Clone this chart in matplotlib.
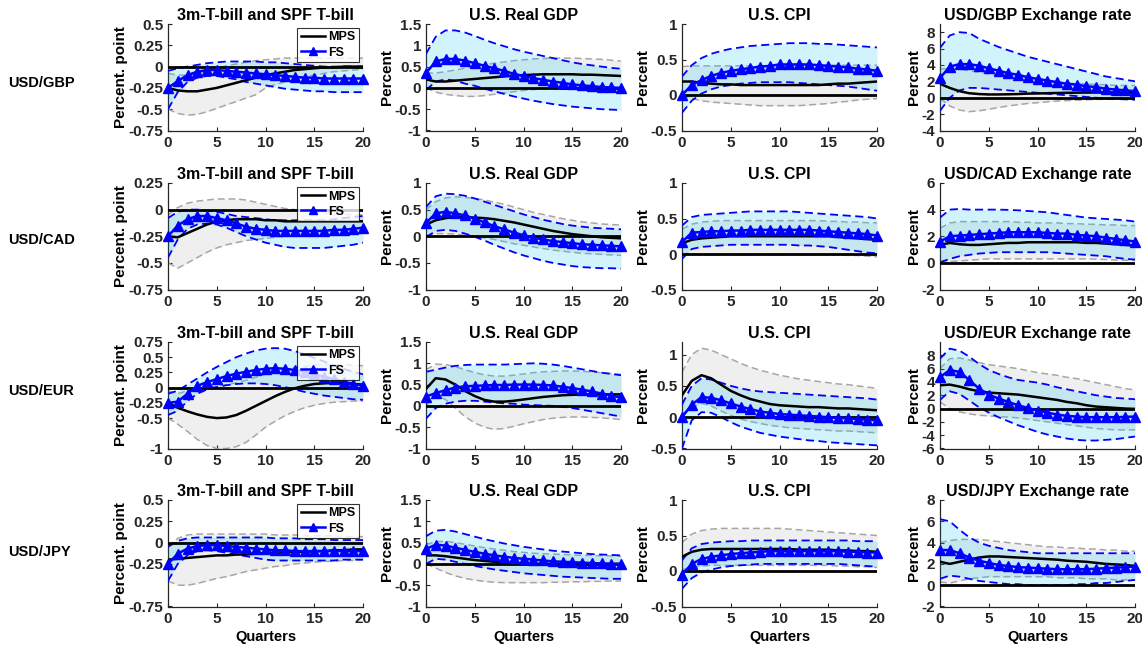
import numpy as np
import matplotlib
matplotlib.use("Agg")
import matplotlib.pyplot as plt

plt.rcParams['font.family'] = ['Liberation Sans', 'DejaVu Sans']
plt.rcParams['font.weight'] = 'bold'

quarters = np.arange(21)
currencies = ["USD/GBP", "USD/CAD", "USD/EUR", "USD/JPY"]
variables = ["3m-T-bill and SPF T-bill", "U.S. Real GDP", "U.S. CPI", "Exchange rate"]
ylabels = ["Percent. point", "Percent", "Percent", "Percent"]

# ---------------- USD/GBP ----------------
gbp_tbill_mps = [-0.25, -0.28, -0.29, -0.29, -0.27, -0.25, -0.22, -0.19, -0.16, -0.13, -0.10, -0.08, -0.06, -0.04, -0.03, -0.02, -0.01, -0.01, 0.0, 0.0, 0.0]
gbp_tbill_mps_hi = [-0.08, -0.10, -0.10, -0.08, -0.05, -0.02, 0.01, 0.03, 0.05, 0.07, 0.08, 0.09, 0.10, 0.10, 0.10, 0.10, 0.10, 0.10, 0.10, 0.10, 0.10]
gbp_tbill_mps_lo = [-0.50, -0.55, -0.57, -0.56, -0.53, -0.49, -0.45, -0.41, -0.37, -0.33, -0.25, -0.21, -0.18, -0.15, -0.12, -0.10, -0.08, -0.06, -0.05, -0.04, -0.03]
gbp_tbill_fs = [-0.25, -0.17, -0.10, -0.06, -0.04, -0.04, -0.05, -0.06, -0.07, -0.08, -0.09, -0.10, -0.11, -0.12, -0.13, -0.13, -0.14, -0.14, -0.14, -0.14, -0.14]
gbp_tbill_fs_hi = [-0.05, -0.02, 0.0, 0.02, 0.04, 0.05, 0.06, 0.06, 0.06, 0.06, 0.05, 0.05, 0.04, 0.03, 0.02, 0.01, 0.0, 0.0, 0.0, 0.0, 0.0]
gbp_tbill_fs_lo = [-0.50, -0.30, -0.18, -0.13, -0.11, -0.11, -0.13, -0.15, -0.18, -0.20, -0.22, -0.24, -0.26, -0.27, -0.28, -0.29, -0.29, -0.30, -0.30, -0.30, -0.30]

gbp_gdp_mps = [0.20, 0.15, 0.15, 0.17, 0.19, 0.21, 0.23, 0.25, 0.27, 0.29, 0.30, 0.31, 0.32, 0.32, 0.32, 0.32, 0.31, 0.31, 0.30, 0.29, 0.28]
gbp_gdp_mps_hi = [0.35, 0.35, 0.38, 0.42, 0.46, 0.50, 0.54, 0.58, 0.61, 0.64, 0.66, 0.68, 0.69, 0.70, 0.70, 0.70, 0.69, 0.68, 0.67, 0.65, 0.63]
gbp_gdp_mps_lo = [0.0, -0.10, -0.15, -0.18, -0.20, -0.20, -0.18, -0.15, -0.12, -0.09, -0.06, -0.04, -0.02, -0.01, 0.0, 0.0, 0.0, 0.0, 0.0, 0.0, 0.0]
gbp_gdp_fs = [0.35, 0.62, 0.68, 0.68, 0.64, 0.58, 0.52, 0.46, 0.40, 0.33, 0.28, 0.23, 0.19, 0.15, 0.12, 0.08, 0.06, 0.04, 0.02, 0.01, 0.0]
gbp_gdp_fs_hi = [0.80, 1.20, 1.35, 1.35, 1.30, 1.22, 1.13, 1.05, 0.98, 0.91, 0.85, 0.80, 0.75, 0.70, 0.65, 0.60, 0.56, 0.53, 0.50, 0.47, 0.45]
gbp_gdp_fs_lo = [-0.05, 0.15, 0.20, 0.17, 0.10, 0.05, -0.02, -0.08, -0.14, -0.20, -0.25, -0.30, -0.34, -0.38, -0.41, -0.44, -0.46, -0.48, -0.50, -0.51, -0.52]

gbp_cpi_mps = [0.19, 0.19, 0.17, 0.16, 0.15, 0.15, 0.14, 0.14, 0.14, 0.14, 0.14, 0.14, 0.14, 0.14, 0.14, 0.15, 0.16, 0.16, 0.17, 0.18, 0.19]
gbp_cpi_mps_hi = [0.40, 0.41, 0.41, 0.41, 0.41, 0.41, 0.41, 0.41, 0.41, 0.41, 0.41, 0.41, 0.42, 0.42, 0.42, 0.42, 0.42, 0.42, 0.42, 0.42, 0.42]
gbp_cpi_mps_lo = [0.0, -0.05, -0.08, -0.10, -0.11, -0.12, -0.13, -0.14, -0.15, -0.15, -0.15, -0.15, -0.15, -0.14, -0.13, -0.12, -0.10, -0.09, -0.07, -0.06, -0.05]
gbp_cpi_fs = [0.0, 0.14, 0.21, 0.27, 0.31, 0.34, 0.36, 0.38, 0.40, 0.41, 0.43, 0.43, 0.43, 0.43, 0.42, 0.41, 0.40, 0.39, 0.37, 0.36, 0.34]
gbp_cpi_fs_hi = [0.26, 0.42, 0.52, 0.58, 0.62, 0.65, 0.67, 0.69, 0.70, 0.71, 0.72, 0.73, 0.73, 0.73, 0.72, 0.72, 0.71, 0.70, 0.69, 0.68, 0.67]
gbp_cpi_fs_lo = [-0.25, -0.08, 0.02, 0.08, 0.12, 0.14, 0.16, 0.17, 0.18, 0.18, 0.18, 0.18, 0.17, 0.16, 0.15, 0.14, 0.13, 0.12, 0.10, 0.08, 0.06]

gbp_fx_mps = [1.70, 1.20, 0.80, 0.55, 0.45, 0.40, 0.40, 0.42, 0.45, 0.50, 0.52, 0.55, 0.58, 0.60, 0.62, 0.63, 0.64, 0.64, 0.64, 0.64, 0.63]
gbp_fx_mps_hi = [3.5, 3.6, 3.5, 3.3, 3.1, 2.9, 2.7, 2.5, 2.3, 2.2, 2.1, 2.0, 1.9, 1.8, 1.7, 1.7, 1.6, 1.6, 1.5, 1.5, 1.5]
gbp_fx_mps_lo = [-0.1, -1.0, -1.5, -1.7, -1.6, -1.4, -1.2, -1.0, -0.85, -0.7, -0.6, -0.5, -0.4, -0.35, -0.3, -0.25, -0.2, -0.2, -0.15, -0.15, -0.1]
gbp_fx_fs = [2.4, 3.8, 4.1, 4.1, 3.9, 3.6, 3.3, 3.0, 2.8, 2.5, 2.3, 2.1, 1.9, 1.7, 1.6, 1.4, 1.3, 1.1, 1.0, 0.9, 0.8]
gbp_fx_fs_hi = [6.1, 7.6, 8.0, 7.9, 7.2, 6.7, 6.2, 5.8, 5.4, 5.0, 4.7, 4.4, 4.1, 3.8, 3.5, 3.2, 2.9, 2.6, 2.4, 2.2, 2.0]
gbp_fx_fs_lo = [-1.6, 0.0, 0.9, 1.2, 1.2, 1.1, 1.0, 0.9, 0.8, 0.7, 0.6, 0.5, 0.4, 0.3, 0.2, 0.1, 0.0, -0.1, -0.15, -0.2, -0.25]

# ---------------- USD/CAD ----------------
cad_tbill_mps = [-0.25, -0.26, -0.22, -0.18, -0.14, -0.11, -0.10, -0.09, -0.09, -0.09, -0.10, -0.10, -0.11, -0.11, -0.11, -0.11, -0.11, -0.11, -0.11, -0.11, -0.11]
cad_tbill_mps_hi = [-0.05, 0.02, 0.06, 0.08, 0.09, 0.10, 0.10, 0.10, 0.09, 0.07, 0.05, 0.03, 0.01, 0.0, -0.01, -0.02, -0.03, -0.04, -0.04, -0.05, -0.05]
cad_tbill_mps_lo = [-0.50, -0.55, -0.50, -0.45, -0.40, -0.36, -0.33, -0.31, -0.29, -0.28, -0.27, -0.26, -0.25, -0.25, -0.25, -0.25, -0.24, -0.24, -0.23, -0.23, -0.22]
cad_tbill_fs = [-0.25, -0.15, -0.09, -0.06, -0.06, -0.08, -0.10, -0.13, -0.16, -0.18, -0.19, -0.20, -0.20, -0.20, -0.20, -0.20, -0.20, -0.19, -0.19, -0.18, -0.17]
cad_tbill_fs_hi = [-0.08, -0.02, 0.0, 0.0, -0.01, -0.02, -0.04, -0.06, -0.07, -0.08, -0.09, -0.10, -0.10, -0.10, -0.10, -0.10, -0.10, -0.09, -0.08, -0.07, -0.06]
cad_tbill_fs_lo = [-0.45, -0.28, -0.18, -0.14, -0.13, -0.14, -0.17, -0.21, -0.25, -0.28, -0.31, -0.33, -0.35, -0.36, -0.36, -0.36, -0.36, -0.35, -0.34, -0.33, -0.31]

cad_gdp_mps = [0.22, 0.30, 0.34, 0.36, 0.36, 0.35, 0.34, 0.32, 0.29, 0.26, 0.22, 0.18, 0.14, 0.10, 0.07, 0.04, 0.02, 0.0, -0.02, -0.03, -0.04]
cad_gdp_mps_hi = [0.50, 0.65, 0.72, 0.74, 0.73, 0.71, 0.68, 0.64, 0.60, 0.55, 0.50, 0.45, 0.41, 0.37, 0.33, 0.30, 0.27, 0.25, 0.23, 0.22, 0.21]
cad_gdp_mps_lo = [0.02, 0.05, 0.05, 0.04, 0.02, 0.0, -0.03, -0.06, -0.10, -0.14, -0.17, -0.20, -0.23, -0.26, -0.28, -0.30, -0.32, -0.33, -0.34, -0.35, -0.36]
cad_gdp_fs = [0.25, 0.43, 0.46, 0.43, 0.39, 0.33, 0.26, 0.19, 0.13, 0.07, 0.02, -0.03, -0.06, -0.09, -0.11, -0.13, -0.15, -0.16, -0.17, -0.18, -0.19]
cad_gdp_fs_hi = [0.55, 0.75, 0.80, 0.79, 0.76, 0.71, 0.65, 0.59, 0.53, 0.47, 0.41, 0.36, 0.31, 0.27, 0.23, 0.20, 0.18, 0.16, 0.15, 0.14, 0.13]
cad_gdp_fs_lo = [-0.02, 0.10, 0.12, 0.10, 0.05, -0.01, -0.08, -0.16, -0.23, -0.30, -0.36, -0.41, -0.46, -0.50, -0.53, -0.56, -0.58, -0.59, -0.60, -0.60, -0.61]

cad_cpi_mps = [0.15, 0.20, 0.22, 0.23, 0.24, 0.25, 0.25, 0.25, 0.25, 0.25, 0.25, 0.25, 0.25, 0.25, 0.25, 0.25, 0.24, 0.23, 0.22, 0.21, 0.20]
cad_cpi_mps_hi = [0.35, 0.42, 0.45, 0.46, 0.47, 0.47, 0.47, 0.47, 0.47, 0.47, 0.47, 0.47, 0.47, 0.47, 0.47, 0.46, 0.46, 0.45, 0.45, 0.44, 0.44]
cad_cpi_mps_lo = [0.0, 0.0, -0.01, -0.01, -0.01, -0.01, -0.01, -0.01, -0.01, -0.01, -0.01, -0.01, -0.01, -0.01, -0.01, -0.01, -0.01, -0.02, -0.02, -0.03, -0.04]
cad_cpi_fs = [0.17, 0.30, 0.31, 0.32, 0.32, 0.33, 0.33, 0.34, 0.34, 0.34, 0.34, 0.34, 0.34, 0.34, 0.33, 0.32, 0.31, 0.30, 0.29, 0.28, 0.26]
cad_cpi_fs_hi = [0.40, 0.52, 0.55, 0.56, 0.57, 0.58, 0.59, 0.60, 0.60, 0.60, 0.60, 0.60, 0.59, 0.58, 0.57, 0.56, 0.55, 0.54, 0.53, 0.52, 0.50]
cad_cpi_fs_lo = [-0.07, 0.07, 0.10, 0.11, 0.12, 0.13, 0.13, 0.13, 0.13, 0.13, 0.13, 0.13, 0.12, 0.12, 0.11, 0.10, 0.08, 0.06, 0.04, 0.02, 0.01]

cad_fx_mps = [1.35, 1.50, 1.40, 1.35, 1.35, 1.40, 1.45, 1.50, 1.50, 1.55, 1.55, 1.55, 1.55, 1.55, 1.55, 1.50, 1.50, 1.45, 1.40, 1.35, 1.30]
cad_fx_mps_hi = [2.6, 3.0, 3.1, 3.1, 3.1, 3.1, 3.1, 3.1, 3.05, 3.05, 3.0, 3.0, 3.0, 2.95, 2.95, 2.9, 2.9, 2.85, 2.85, 2.8, 2.8]
cad_fx_mps_lo = [0.05, 0.10, 0.15, 0.20, 0.25, 0.30, 0.30, 0.30, 0.30, 0.30, 0.30, 0.30, 0.30, 0.30, 0.30, 0.30, 0.28, 0.25, 0.22, 0.20, 0.18]
cad_fx_fs = [1.60, 2.00, 2.05, 2.10, 2.15, 2.20, 2.25, 2.30, 2.30, 2.30, 2.30, 2.25, 2.20, 2.20, 2.10, 2.05, 2.00, 1.90, 1.80, 1.70, 1.60]
cad_fx_fs_hi = [3.4, 4.0, 4.05, 4.0, 4.0, 4.0, 4.0, 3.98, 3.95, 3.9, 3.85, 3.8, 3.7, 3.6, 3.5, 3.4, 3.35, 3.3, 3.25, 3.2, 3.1]
cad_fx_fs_lo = [0.05, 0.30, 0.50, 0.60, 0.70, 0.75, 0.80, 0.80, 0.80, 0.80, 0.80, 0.80, 0.75, 0.70, 0.65, 0.60, 0.55, 0.50, 0.40, 0.30, 0.25]

# ---------------- USD/EUR ----------------
eur_tbill_mps = [-0.25, -0.33, -0.39, -0.44, -0.48, -0.50, -0.49, -0.45, -0.38, -0.30, -0.22, -0.14, -0.07, -0.01, 0.03, 0.06, 0.07, 0.08, 0.07, 0.06, 0.05]
eur_tbill_mps_hi = [-0.05, -0.10, -0.05, -0.02, 0.0, 0.02, 0.05, 0.08, 0.12, 0.17, 0.22, 0.26, 0.30, 0.33, 0.35, 0.37, 0.38, 0.38, 0.38, 0.37, 0.36]
eur_tbill_mps_lo = [-0.50, -0.60, -0.72, -0.85, -0.95, -1.00, -1.00, -0.97, -0.90, -0.78, -0.65, -0.55, -0.46, -0.39, -0.33, -0.29, -0.26, -0.24, -0.23, -0.22, -0.22]
eur_tbill_fs = [-0.25, -0.23, -0.10, 0.03, 0.09, 0.14, 0.19, 0.23, 0.26, 0.29, 0.31, 0.32, 0.31, 0.29, 0.26, 0.22, 0.18, 0.14, 0.10, 0.06, 0.03]
eur_tbill_fs_hi = [-0.10, -0.05, 0.05, 0.15, 0.25, 0.34, 0.42, 0.50, 0.56, 0.61, 0.64, 0.65, 0.64, 0.60, 0.55, 0.49, 0.43, 0.37, 0.31, 0.26, 0.22]
eur_tbill_fs_lo = [-0.45, -0.38, -0.22, -0.10, -0.03, 0.01, 0.04, 0.06, 0.07, 0.07, 0.06, 0.04, 0.01, -0.03, -0.07, -0.10, -0.13, -0.15, -0.17, -0.19, -0.20]

eur_gdp_mps = [0.40, 0.65, 0.62, 0.50, 0.35, 0.23, 0.14, 0.10, 0.10, 0.12, 0.15, 0.18, 0.21, 0.23, 0.25, 0.26, 0.27, 0.27, 0.27, 0.27, 0.27]
eur_gdp_mps_hi = [0.85, 0.98, 0.97, 0.92, 0.85, 0.78, 0.73, 0.70, 0.70, 0.72, 0.75, 0.78, 0.80, 0.81, 0.82, 0.82, 0.81, 0.80, 0.78, 0.76, 0.74]
eur_gdp_mps_lo = [0.0, 0.25, 0.15, -0.05, -0.25, -0.40, -0.50, -0.55, -0.53, -0.48, -0.42, -0.37, -0.32, -0.29, -0.27, -0.26, -0.26, -0.27, -0.28, -0.30, -0.32]
eur_gdp_fs = [0.22, 0.30, 0.37, 0.43, 0.46, 0.47, 0.48, 0.49, 0.49, 0.50, 0.50, 0.50, 0.49, 0.48, 0.45, 0.42, 0.38, 0.34, 0.29, 0.24, 0.20]
eur_gdp_fs_hi = [0.80, 0.85, 0.90, 0.94, 0.96, 0.97, 0.97, 0.97, 0.97, 0.98, 0.99, 1.00, 0.99, 0.97, 0.94, 0.90, 0.86, 0.82, 0.78, 0.75, 0.72]
eur_gdp_fs_lo = [-0.30, -0.05, 0.05, 0.10, 0.12, 0.12, 0.10, 0.08, 0.06, 0.05, 0.03, 0.02, 0.01, 0.0, -0.02, -0.05, -0.09, -0.13, -0.17, -0.21, -0.25]

eur_cpi_mps = [0.35, 0.58, 0.67, 0.62, 0.52, 0.42, 0.35, 0.29, 0.25, 0.21, 0.19, 0.18, 0.17, 0.16, 0.16, 0.15, 0.14, 0.14, 0.13, 0.12, 0.11]
eur_cpi_mps_hi = [0.72, 1.00, 1.10, 1.07, 1.00, 0.93, 0.86, 0.80, 0.75, 0.71, 0.67, 0.64, 0.61, 0.59, 0.57, 0.55, 0.53, 0.52, 0.50, 0.48, 0.46]
eur_cpi_mps_lo = [0.05, 0.15, 0.22, 0.18, 0.10, 0.03, -0.03, -0.07, -0.10, -0.13, -0.15, -0.17, -0.18, -0.19, -0.20, -0.21, -0.22, -0.22, -0.23, -0.24, -0.25]
eur_cpi_fs = [0.0, 0.20, 0.32, 0.31, 0.27, 0.22, 0.17, 0.13, 0.09, 0.07, 0.05, 0.04, 0.03, 0.02, 0.01, 0.0, -0.01, -0.02, -0.03, -0.04, -0.05]
eur_cpi_fs_hi = [0.20, 0.50, 0.62, 0.60, 0.55, 0.50, 0.46, 0.43, 0.41, 0.40, 0.39, 0.38, 0.37, 0.36, 0.35, 0.34, 0.33, 0.32, 0.31, 0.30, 0.28]
eur_cpi_fs_lo = [-0.50, -0.05, 0.08, 0.07, 0.0, -0.08, -0.15, -0.20, -0.25, -0.28, -0.31, -0.33, -0.35, -0.37, -0.38, -0.40, -0.41, -0.42, -0.43, -0.44, -0.45]

eur_fx_mps = [3.5, 3.6, 3.3, 2.9, 2.6, 2.4, 2.3, 2.2, 2.1, 1.9, 1.7, 1.5, 1.3, 1.0, 0.8, 0.5, 0.3, 0.2, 0.1, 0.0, -0.05]
eur_fx_mps_hi = [6.0, 7.5, 7.6, 7.3, 6.9, 6.6, 6.4, 6.2, 6.0, 5.7, 5.4, 5.2, 5.0, 4.7, 4.5, 4.2, 3.9, 3.6, 3.3, 3.0, 2.8]
eur_fx_mps_lo = [1.0, 0.0, -0.5, -0.8, -1.0, -1.1, -1.2, -1.3, -1.4, -1.6, -1.8, -2.0, -2.2, -2.4, -2.6, -2.8, -3.0, -3.1, -3.2, -3.2, -3.2]
eur_fx_fs = [4.7, 5.8, 5.5, 4.3, 3.0, 2.1, 1.5, 1.0, 0.5, 0.1, -0.3, -0.6, -0.9, -1.1, -1.2, -1.3, -1.3, -1.3, -1.3, -1.25, -1.2]
eur_fx_fs_hi = [7.5, 9.0, 8.7, 7.8, 6.7, 5.8, 5.2, 4.7, 4.3, 4.1, 3.9, 3.6, 3.2, 2.9, 2.6, 2.3, 2.0, 1.8, 1.6, 1.5, 1.4]
eur_fx_fs_lo = [1.3, 2.6, 2.2, 1.2, 0.2, -0.6, -1.3, -1.9, -2.5, -3.0, -3.5, -3.9, -4.2, -4.5, -4.7, -4.8, -4.8, -4.7, -4.6, -4.4, -4.2]

# ---------------- USD/JPY ----------------
jpy_tbill_mps = [-0.20, -0.19, -0.18, -0.17, -0.16, -0.15, -0.15, -0.14, -0.14, -0.13, -0.12, -0.12, -0.11, -0.11, -0.11, -0.10, -0.10, -0.09, -0.09, -0.08, -0.08]
jpy_tbill_mps_hi = [-0.05, 0.05, 0.09, 0.10, 0.10, 0.10, 0.10, 0.10, 0.10, 0.10, 0.10, 0.09, 0.09, 0.09, 0.08, 0.08, 0.08, 0.08, 0.07, 0.07, 0.07]
jpy_tbill_mps_lo = [-0.45, -0.50, -0.50, -0.48, -0.45, -0.42, -0.40, -0.37, -0.34, -0.32, -0.30, -0.28, -0.27, -0.25, -0.24, -0.23, -0.22, -0.22, -0.21, -0.21, -0.20]
jpy_tbill_fs = [-0.25, -0.13, -0.07, -0.04, -0.03, -0.03, -0.04, -0.05, -0.06, -0.07, -0.08, -0.09, -0.09, -0.10, -0.10, -0.10, -0.10, -0.10, -0.10, -0.10, -0.10]
jpy_tbill_fs_hi = [-0.05, 0.02, 0.05, 0.06, 0.06, 0.06, 0.06, 0.06, 0.06, 0.06, 0.06, 0.05, 0.05, 0.05, 0.04, 0.04, 0.04, 0.03, 0.03, 0.03, 0.03]
jpy_tbill_fs_lo = [-0.45, -0.25, -0.15, -0.10, -0.09, -0.10, -0.12, -0.14, -0.16, -0.18, -0.20, -0.21, -0.21, -0.21, -0.21, -0.21, -0.21, -0.21, -0.20, -0.20, -0.20]

jpy_gdp_mps = [0.20, 0.20, 0.18, 0.15, 0.12, 0.09, 0.07, 0.05, 0.03, 0.02, 0.01, 0.0, 0.0, 0.0, 0.0, 0.0, 0.0, 0.0, 0.0, 0.0, 0.0]
jpy_gdp_mps_hi = [0.45, 0.52, 0.53, 0.50, 0.46, 0.42, 0.38, 0.35, 0.32, 0.29, 0.27, 0.25, 0.24, 0.23, 0.22, 0.21, 0.20, 0.20, 0.19, 0.19, 0.18]
jpy_gdp_mps_lo = [0.0, -0.10, -0.20, -0.28, -0.34, -0.38, -0.41, -0.43, -0.44, -0.44, -0.44, -0.44, -0.44, -0.43, -0.43, -0.42, -0.42, -0.41, -0.41, -0.40, -0.40]
jpy_gdp_fs = [0.35, 0.45, 0.43, 0.38, 0.33, 0.28, 0.24, 0.20, 0.17, 0.14, 0.12, 0.10, 0.08, 0.06, 0.05, 0.04, 0.03, 0.02, 0.01, 0.0, 0.0]
jpy_gdp_fs_hi = [0.65, 0.78, 0.80, 0.76, 0.70, 0.64, 0.58, 0.53, 0.48, 0.44, 0.40, 0.37, 0.34, 0.31, 0.29, 0.27, 0.25, 0.23, 0.22, 0.21, 0.20]
jpy_gdp_fs_lo = [0.0, 0.12, 0.10, 0.05, 0.0, -0.05, -0.09, -0.13, -0.16, -0.19, -0.22, -0.24, -0.26, -0.28, -0.30, -0.31, -0.32, -0.33, -0.34, -0.35, -0.35]

jpy_cpi_mps = [0.20, 0.27, 0.30, 0.31, 0.31, 0.31, 0.31, 0.31, 0.31, 0.31, 0.31, 0.31, 0.30, 0.30, 0.30, 0.30, 0.29, 0.29, 0.28, 0.28, 0.27]
jpy_cpi_mps_hi = [0.40, 0.52, 0.57, 0.59, 0.60, 0.60, 0.60, 0.60, 0.60, 0.60, 0.60, 0.59, 0.58, 0.57, 0.56, 0.55, 0.54, 0.53, 0.52, 0.51, 0.50]
jpy_cpi_mps_lo = [0.02, 0.05, 0.07, 0.08, 0.08, 0.08, 0.08, 0.08, 0.08, 0.08, 0.08, 0.08, 0.08, 0.08, 0.08, 0.08, 0.07, 0.07, 0.06, 0.06, 0.05]
jpy_cpi_fs = [-0.05, 0.10, 0.17, 0.20, 0.22, 0.24, 0.25, 0.26, 0.27, 0.28, 0.28, 0.28, 0.28, 0.28, 0.28, 0.28, 0.28, 0.27, 0.27, 0.26, 0.26]
jpy_cpi_fs_hi = [0.15, 0.32, 0.38, 0.40, 0.41, 0.42, 0.42, 0.43, 0.43, 0.43, 0.43, 0.43, 0.43, 0.43, 0.43, 0.43, 0.43, 0.43, 0.42, 0.42, 0.42]
jpy_cpi_fs_lo = [-0.25, -0.10, -0.02, 0.02, 0.05, 0.07, 0.08, 0.09, 0.10, 0.10, 0.10, 0.10, 0.10, 0.10, 0.10, 0.10, 0.10, 0.09, 0.08, 0.07, 0.06]

jpy_fx_mps = [2.2, 2.0, 2.2, 2.4, 2.6, 2.7, 2.7, 2.65, 2.6, 2.55, 2.5, 2.45, 2.4, 2.3, 2.25, 2.2, 2.1, 2.0, 1.95, 1.9, 1.8]
jpy_fx_mps_hi = [4.0, 4.2, 4.3, 4.3, 4.3, 4.2, 4.1, 4.0, 3.9, 3.8, 3.7, 3.6, 3.6, 3.5, 3.5, 3.4, 3.4, 3.3, 3.3, 3.2, 3.2]
jpy_fx_mps_lo = [0.3, 0.2, 0.4, 0.6, 0.7, 0.8, 0.8, 0.8, 0.8, 0.8, 0.8, 0.8, 0.7, 0.7, 0.7, 0.6, 0.6, 0.6, 0.5, 0.5, 0.5]
jpy_fx_fs = [3.3, 3.3, 3.0, 2.6, 2.3, 2.1, 1.9, 1.8, 1.7, 1.65, 1.6, 1.55, 1.5, 1.5, 1.5, 1.5, 1.55, 1.6, 1.65, 1.7, 1.75]
jpy_fx_fs_hi = [6.2, 6.0, 5.2, 4.5, 4.0, 3.7, 3.5, 3.3, 3.2, 3.1, 3.0, 3.0, 3.0, 3.0, 3.0, 3.0, 3.0, 3.0, 3.0, 3.0, 3.0]
jpy_fx_fs_lo = [0.6, 0.9, 0.8, 0.6, 0.4, 0.3, 0.2, 0.1, 0.1, 0.0, 0.0, 0.0, 0.0, 0.0, 0.1, 0.1, 0.2, 0.2, 0.3, 0.4, 0.5]

# Axis ranges and ticks, one entry per panel (row-major)
panel_ylim = [
    (-0.75, 0.5), (-1, 1.5), (-0.5, 1), (-4, 9),
    (-0.75, 0.25), (-1, 1), (-0.5, 1), (-2, 6),
    (-1, 0.75), (-1, 1.5), (-0.5, 1.2), (-6, 10),
    (-0.75, 0.5), (-1, 1.5), (-0.5, 1), (-2, 8),
]
panel_yticks = [
    [-0.75, -0.5, -0.25, 0, 0.25, 0.5], [-1, -0.5, 0, 0.5, 1, 1.5], [-0.5, 0, 0.5, 1], [-4, -2, 0, 2, 4, 6, 8],
    [-0.75, -0.5, -0.25, 0, 0.25], [-1, -0.5, 0, 0.5, 1], [-0.5, 0, 0.5, 1], [-2, 0, 2, 4, 6],
    [-1, -0.5, -0.25, 0, 0.25, 0.5, 0.75], [-1, -0.5, 0, 0.5, 1, 1.5], [-0.5, 0, 0.5, 1], [-6, -4, -2, 0, 2, 4, 6, 8],
    [-0.75, -0.25, 0, 0.25, 0.5], [-1, -0.5, 0, 0.5, 1, 1.5], [-0.5, 0, 0.5, 1], [-2, 0, 2, 4, 6, 8],
]

series = {}
for pre in ["gbp", "cad", "eur", "jpy"]:
    for var in ["tbill", "gdp", "cpi", "fx"]:
        series[(pre, var)] = tuple(np.asarray(globals()[f"{pre}_{var}_{s}"], dtype=float)
                                   for s in ["mps", "mps_lo", "mps_hi", "fs", "fs_lo", "fs_hi"])

fig = plt.figure(figsize=(11.42, 6.5), dpi=100)
W, H = 1142.0, 650.0
col_left = [168, 426, 682, 940]
col_w = 195
row_top = [24, 183, 342, 500]
row_h = 106.5
row_label_y = [83, 240, 391, 552]
axis_col = '#262626'
dash = (0, (4.5, 2.5))

for r, pre in enumerate(["gbp", "cad", "eur", "jpy"]):
    fig.text(8 / W, 1 - row_label_y[r] / H, currencies[r], fontsize=10.5, fontweight='bold',
             va='center', ha='left')
    for c, var in enumerate(["tbill", "gdp", "cpi", "fx"]):
        k = r * 4 + c
        ax = fig.add_axes([col_left[c] / W, 1 - (row_top[r] + row_h) / H, col_w / W, row_h / H])
        mps, mps_lo, mps_hi, fs, fs_lo, fs_hi = series[(pre, var)]
        ax.fill_between(quarters, mps_lo, mps_hi, color='#efefef', lw=0, zorder=1)
        ax.plot(quarters, mps_lo, color='#a6a6a6', lw=1.1, ls=dash, zorder=2)
        ax.plot(quarters, mps_hi, color='#a6a6a6', lw=1.1, ls=dash, zorder=2)
        ax.fill_between(quarters, fs_lo, fs_hi, color='#19c3f0', alpha=0.2, lw=0, zorder=3)
        ax.plot(quarters, fs_lo, color='#0000ff', lw=1.3, ls=dash, zorder=4)
        ax.plot(quarters, fs_hi, color='#0000ff', lw=1.3, ls=dash, zorder=4)
        ax.plot([0, 20], [0, 0], color='black', lw=2.0, zorder=5)
        l_mps, = ax.plot(quarters, mps, color='black', lw=1.8, zorder=6, label='MPS')
        l_fs, = ax.plot(quarters, fs, color='#0000ff', lw=1.8, marker='^', ms=6.5,
                        zorder=7, clip_on=False, label='FS')
        ax.set_xlim(0, 20)
        ax.set_ylim(*panel_ylim[k])
        ax.set_xticks([0, 5, 10, 15, 20])
        ax.set_yticks(panel_yticks[k])
        ax.set_yticklabels([f"{v:g}" for v in panel_yticks[k]])
        for side in ['top', 'right']:
            ax.spines[side].set_visible(False)
        for side in ['left', 'bottom']:
            ax.spines[side].set_color(axis_col)
            ax.spines[side].set_linewidth(0.9)
        ax.tick_params(direction='in', length=3, width=0.8, colors=axis_col, labelsize=11)
        ax.tick_params(axis='x', pad=4)
        ax.tick_params(axis='y', pad=3.5)
        for lab in ax.get_xticklabels() + ax.get_yticklabels():
            lab.set_fontweight('bold')
        title = variables[c] if c < 3 else f"{currencies[r]} {variables[c]}"
        ax.set_title(title, fontsize=11.5, fontweight='bold', pad=3)
        ax.set_ylabel(ylabels[c], fontsize=11, fontweight='bold', labelpad=0.5)
        if r == 3:
            ax.set_xlabel("Quarters", fontsize=10.5, fontweight='bold', labelpad=3)
        if c == 0:
            leg = ax.legend(handles=[l_mps, l_fs], loc='upper right', fontsize=9,
                            frameon=True, fancybox=False, edgecolor='black',
                            borderpad=0.3, handlelength=1.9, handletextpad=0.3,
                            labelspacing=0.25, borderaxespad=0.3, markerscale=0.9)
            leg.get_frame().set_linewidth(0.8)
            leg.set_zorder(10)
            for t in leg.get_texts():
                t.set_fontweight('bold')

fig.savefig("out.png", dpi=100)
